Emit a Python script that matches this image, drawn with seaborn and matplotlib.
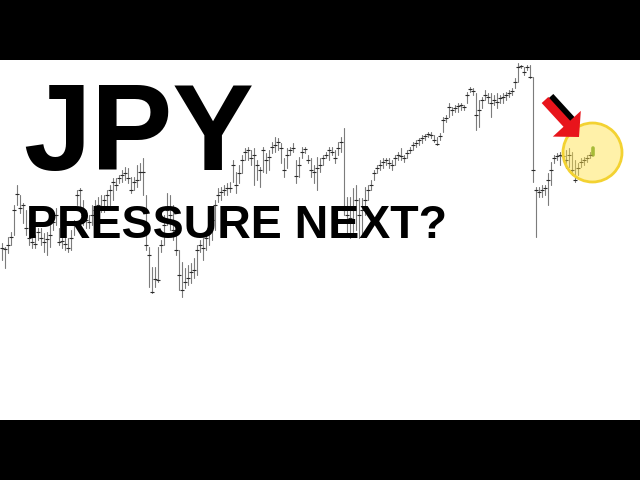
import numpy as np
import pandas as pd
import matplotlib
matplotlib.use('Agg')
import matplotlib.pyplot as plt
import seaborn as sns
from matplotlib.patches import Circle, FancyArrow
from matplotlib.transforms import IdentityTransform

# daily bars (index level)
highs = [257, 253, 263, 268, 295, 315, 305, 297,
         290, 280, 275, 265, 272, 272, 267, 268, 275, 285, 292, 272, 262, 262, 262, 270, 280, 310, 312, 300, 290, 285,
         295, 300, 303, 305, 305, 310, 315, 322, 322, 325, 330, 333, 332, 323, 323, 335, 337, 342,
         305, 253, 233, 233, 253, 260, 285, 307, 305, 295, 270, 250, 238, 232, 235, 237, 242, 255, 260, 262, 265, 280, 290, 300,
         312, 313, 315, 317, 318, 340, 328, 335, 345, 352, 353, 350, 352, 340, 333, 353, 347, 350, 358, 363,
         362, 357, 342, 352, 353, 357, 340, 343, 353, 353, 345, 342, 335, 343, 342, 345, 348, 353, 353, 350, 358, 363,
         372, 303, 303, 312, 315, 302, 302, 313, 315, 320, 330, 335, 340, 342, 342, 342, 340, 345, 348, 352,
         345, 350, 353, 358, 360, 362, 365, 366, 368, 368, 365, 363, 367,
         383, 385, 397, 393, 395, 397, 397, 395, 408, 413, 412, 407, 400, 403, 410, 407, 407, 405, 407, 405,
         407, 408, 410, 412, 422, 437, 435, 433, 435, 435,
         423, 313, 313, 315, 315, 327, 338, 345, 347, 348, 348, 350, 352, 348, 340, 337, 342, 343, 345, 348, 352]

lows = [240, 232, 247, 255, 265, 295, 287, 277,
        265, 255, 252, 252, 260, 255, 248, 245, 253, 270, 275, 255, 252, 250, 248, 250, 265, 295, 290, 275, 272, 272,
        275, 280, 285, 288, 288, 290, 295, 300, 310, 317, 318, 320, 317, 307, 310, 313, 320, 305,
        250, 213, 207, 213, 218, 248, 255, 275, 270, 260, 245, 210, 203, 212, 215, 217, 222, 225, 248, 240, 250, 255, 260, 270,
        298, 300, 305, 305, 308, 318, 307, 317, 327, 340, 340, 335, 315, 320, 313, 328, 327, 330, 347, 348,
        350, 337, 323, 332, 345, 348, 317, 323, 342, 347, 337, 323, 317, 310, 328, 335, 342, 340, 345, 337, 345, 348,
        285, 265, 262, 268, 270, 262, 265, 285, 300, 310, 320, 327, 330, 332, 335, 332, 330, 335, 340, 340,
        338, 342, 347, 350, 353, 355, 357, 360, 363, 362, 358, 355, 360,
        368, 378, 383, 385, 388, 388, 390, 390, 397, 408, 405, 370, 373, 392, 400, 397, 383, 395, 392, 397,
        397, 400, 403, 405, 412, 418, 432, 425, 430, 422,
        318, 263, 303, 303, 305, 295, 315, 337, 340, 335, 340, 332, 333, 325, 318, 325, 333, 335, 338, 342, 345]

closes = [252, 251, 255, 263, 290, 306, 292, 295,
          272, 262, 258, 256, 268, 262, 258, 261, 265, 278, 285, 258, 259, 256, 252, 262, 275, 305, 310, 285, 280, 278,
          285, 290, 295, 292, 300, 305, 310, 318, 315, 322, 325, 327, 322, 310, 318, 320, 328, 328,
          255, 245, 208, 221, 220, 255, 275, 290, 285, 270, 250, 225, 210, 218, 222, 228, 230, 250, 255, 252, 262, 272, 280, 295,
          305, 308, 310, 312, 312, 335, 315, 327, 340, 348, 350, 342, 345, 335, 330, 350, 340, 343, 353, 355,
          358, 352, 330, 345, 350, 352, 324, 335, 348, 351, 340, 330, 328, 332, 335, 342, 345, 350, 348, 342, 352, 358,
          290, 285, 282, 290, 300, 285, 290, 300, 310, 315, 327, 332, 335, 338, 340, 337, 335, 342, 345, 344,
          342, 347, 350, 355, 357, 360, 362, 364, 366, 365, 360, 356, 364,
          380, 382, 393, 390, 392, 394, 395, 393, 405, 411, 409, 385, 390, 400, 405, 403, 397, 400, 398, 402,
          403, 405, 407, 409, 418, 433, 434, 428, 433, 423,
          330, 310, 308, 310, 312, 320, 330, 342, 344, 345, 344, 340, 345, 330, 320, 332, 338, 340, 342, 345, 350]

n = len(closes)
bars = pd.DataFrame({'bar': range(n), 'high': highs, 'low': lows, 'close': closes})
bars['kind'] = 'old'
bars.loc[n - 1, 'kind'] = 'last'
long_df = bars.melt(id_vars=['bar', 'kind'], value_vars=['high', 'low'], value_name='price')

sns.set_style('white')
plt.rcParams['font.family'] = ['Liberation Sans', 'DejaVu Sans']

fig = plt.figure(figsize=(6.4, 4.8), dpi=100, facecolor='black')
ax = fig.add_axes([0, 60 / 480, 1, 360 / 480])
ax.set_facecolor('white')

# high-low bars
sns.lineplot(data=long_df[long_df['kind'] == 'old'], x='bar', y='price', units='bar',
             estimator=None, color='#7c7c7c', lw=0.8, ax=ax)
sns.lineplot(data=long_df[long_df['kind'] == 'last'], x='bar', y='price', units='bar',
             estimator=None, color='#5f9e35', lw=2.6, ax=ax)
# close ticks
sns.scatterplot(data=bars[bars['kind'] == 'old'], x='bar', y='close', marker='_', s=6,
                color='#2a2a2a', linewidth=0.8, ax=ax, zorder=3)

ax.set_xlim(-2 / 3, -2 / 3 + 640 / 3)
ax.set_ylim(80, 440)
ax.set_xticks([])
ax.set_yticks([])
ax.set_xlabel('')
ax.set_ylabel('')
for s in ax.spines.values():
    s.set_visible(False)

# titles
fig.text(23 / 640, (480 - 170) / 480, 'JPY', fontsize=88, fontweight='bold',
         color='black', ha='left', va='baseline')
fig.text(26 / 640, (480 - 238) / 480, 'PRESSURE NEXT?', fontsize=33.5, fontweight='bold',
         color='black', ha='left', va='baseline')

# highlight circle
circ = Circle((592.5, 327.5), 29.5, transform=IdentityTransform(),
              facecolor=(1.0, 0.88, 0.25, 0.45), edgecolor='#f3d232', lw=2.0, zorder=4)
fig.add_artist(circ)

# red arrow with black shadow on the shaft
shadow = FancyArrow(550, 383, 22, -24, width=9, head_width=9, head_length=0.1,
                    length_includes_head=True, transform=IdentityTransform(),
                    color='black', lw=0, zorder=5)
fig.add_artist(shadow)
arrow = FancyArrow(545, 380, 34, -37, width=9, head_width=38, head_length=18,
                   length_includes_head=True, transform=IdentityTransform(),
                   color='#e8141b', lw=0, zorder=6)
fig.add_artist(arrow)

fig.savefig('out.png', dpi=100, facecolor='black')
